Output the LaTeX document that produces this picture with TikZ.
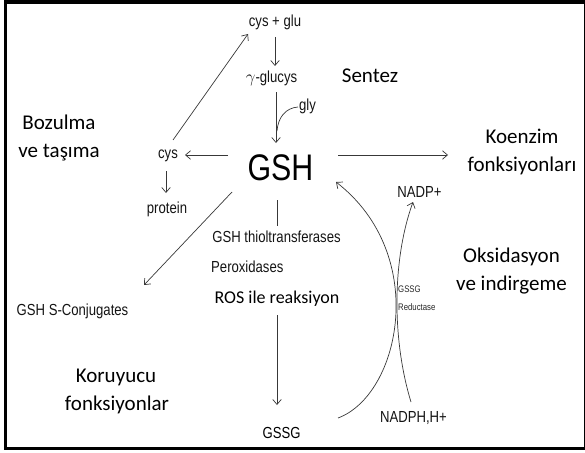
\documentclass[tikz,border=0pt]{standalone}
\usepackage{fontspec}
\setmainfont{Carlito}
\newfontfamily\nar[FakeStretch=0.82]{Liberation Sans}
\usetikzlibrary{arrows.meta}
\begin{document}
\begin{tikzpicture}[x=1pt,y=-1pt,
  lbl/.style={font=\fontsize{21}{25}\selectfont, inner sep=0pt, anchor=base},
  sm/.style={font=\nar\fontsize{16}{19}\selectfont, inner sep=0pt, anchor=base, text=black!92},
  tiny/.style={font=\nar\fontsize{9.5}{11}\selectfont, inner sep=0pt, anchor=base west, text=black!85},
  conn/.style={draw=black!78, line width=0.7pt},
  arr/.style={conn, -{Straight Barb[length=5pt,width=8.5pt]}}]
\useasboundingbox (0,0) rectangle (585,452);
\draw[line width=3.5pt] (5.5,1.8) rectangle (585.8,448.3);

% labels (Calibri-like)
\node[lbl] (sentez) at (370,82) {Sentez};
\node[lbl] (boz1) at (59,129) {Bozulma};
\node[lbl] (boz2) at (59,157) {ve taşıma};
\node[lbl] (koe1) at (522,143) {Koenzim};
\node[lbl] (koe2) at (522,171) {fonksiyonları};
\node[lbl] (oks1) at (511.5,262) {Oksidasyon};
\node[lbl] (oks2) at (511.5,290) {ve indirgeme};
\node[lbl] (kor1) at (116,382) {Koruyucu};
\node[lbl] (kor2) at (117,410) {fonksiyonlar};
\node[lbl, font=\fontsize{18}{22}\selectfont] (ros) at (277,303) {ROS ile reaksiyon};

% chemistry labels
\node[sm] (cg) at (275,27) {cys + glu};
\node[sm] (gg) at (271.5,82) {$\gamma$-glucys};
\node[sm] (gly) at (307.5,110) {gly};
\node[sm, font=\nar\fontsize{37}{40}\selectfont, text=black] (gsh) at (280.5,180) {GSH};
\node[sm] (cys) at (168,158) {cys};
\node[sm] (prot) at (167,213) {protein};
\node[sm] (conj) at (72.5,315) {GSH S-Conjugates};
\node[sm] (thio) at (276.5,242) {GSH thioltransferases};
\node[sm, anchor=base west] (perox) at (211,272) {Peroxidases};
\node[sm, text=black] (gssg) at (281.5,438) {GSSG};
\node[sm] (nadp) at (419.5,197) {NADP+};
\node[sm] (nadph) at (413.5,422) {NADPH,H+};
\node[tiny] (red1) at (398,292) {GSSG};
\node[tiny] (red2) at (398,310) {Reductase};

% connector end points
\coordinate (cgS) at (275,37);
\coordinate (ggN) at (275,66);
\coordinate (ggS) at (276,92);
\coordinate (gshN) at (276,143);
\coordinate (glyW) at (298,107);
\coordinate (glyJ) at (277,131);
\coordinate (gshW) at (228,155);
\coordinate (cysE) at (185,155);
\coordinate (cysNE) at (173,140);
\coordinate (cgSW) at (248,34);
\coordinate (cysS) at (166,171);
\coordinate (protN) at (166,193);
\coordinate (gshSW) at (232,192);
\coordinate (conjNE) at (144,285);
\coordinate (gshS) at (277,200);
\coordinate (thioN) at (277,226);
\coordinate (rosS) at (277,315);
\coordinate (gssgN) at (277,405);
\coordinate (gshE) at (338,155);
\coordinate (koeW) at (448,155);
\coordinate (gssgE) at (338,418);
\coordinate (gshSE) at (336,182);
\coordinate (nadphN) at (411,402);
\coordinate (nadpS) at (413,202);

% connectors
\draw[arr] (cgS) -- (ggN);
\draw[arr] (ggS) -- (gshN);
\draw[conn] (glyW) .. controls (285,108) and (278,118) .. (glyJ);
\draw[arr] (gshW) -- (cysE);
\draw[arr] (cysNE) -- (cgSW);
\draw[arr] (cysS) -- (protN);
\draw[arr] (gshSW) -- (conjNE);
\draw[conn] (gshS) -- (thioN);
\draw[arr] (rosS) -- (gssgN);
\draw[arr] (gshE) -- (koeW);
\draw[arr] (gssgE) .. controls (400,395) and (430,255) .. (gshSE);
\draw[arr] (nadphN) .. controls (392,340) and (392,260) .. (nadpS);
\end{tikzpicture}
\end{document}
